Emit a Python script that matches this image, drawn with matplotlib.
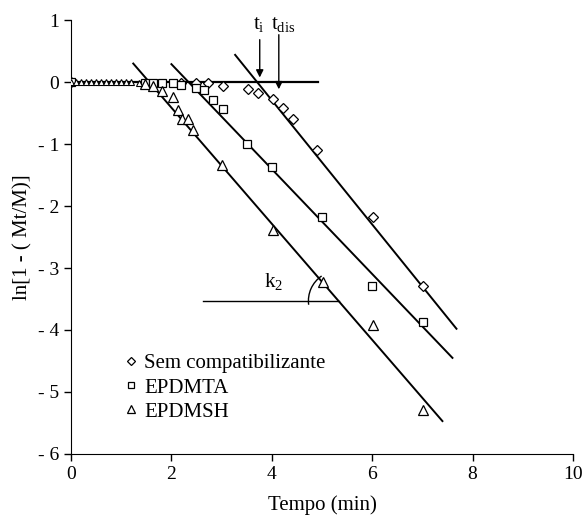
import matplotlib.pyplot as plt
from matplotlib.patches import Arc

plt.rcParams["font.family"] = ["Liberation Serif", "DejaVu Serif"]
plt.rcParams["mathtext.fontset"] = "custom"
plt.rcParams["mathtext.rm"] = "Liberation Serif"
plt.rcParams["mathtext.it"] = "Liberation Serif"

# Sem compatibilizante (diamonds)
t_sem = [0, 2.2, 2.5, 2.73, 3.02, 3.52, 3.72, 4.02, 4.23, 4.43, 4.91, 6.02, 7.02]
y_sem = [0, -0.02, -0.02, -0.02, -0.06, -0.11, -0.17, -0.28, -0.42, -0.59, -1.10, -2.17, -3.29]

# EPDMTA (squares)
t_ta = [0, 1.47, 1.64, 1.81, 2.04, 2.2, 2.5, 2.64, 2.82, 3.02, 3.51, 4.01, 5.01, 6.0, 7.02]
y_ta = [0, -0.01, -0.01, -0.01, -0.02, -0.05, -0.09, -0.12, -0.29, -0.44, -1.0, -1.37, -2.18, -3.29, -3.87]

# EPDMSH (triangles): dense early readings, then the later ones
t_sh_early = [0, 0.1, 0.2, 0.3, 0.4, 0.5, 0.6, 0.7, 0.8, 0.9, 1.0, 1.1, 1.2, 1.35]
y_sh_early = [0, 0, 0, 0, 0, 0, 0, 0, 0, 0, 0, 0, 0, -0.01]
t_sh = [1.47, 1.64, 1.81, 2.03, 2.14, 2.22, 2.34, 2.44, 3.01, 4.02, 5.03, 6.01, 7.02]
y_sh = [-0.03, -0.06, -0.14, -0.24, -0.45, -0.6, -0.6, -0.77, -1.34, -2.38, -3.22, -3.92, -5.29]

# fitted lines (end points)
base_t = [0, 4.93]
base_y = [0, 0]
fit_sem_t = [3.27, 7.68]
fit_sem_y = [0.44, -3.98]
fit_ta_t = [2.0, 7.6]
fit_ta_y = [0.29, -4.45]
fit_sh_t = [1.24, 7.4]
fit_sh_y = [0.30, -5.47]
k2_t = [2.63, 5.33]
k2_y = [-3.53, -3.53]

fig, ax = plt.subplots(figsize=(5.87, 5.17), dpi=100)
fig.subplots_adjust(left=0.121, right=0.976, bottom=0.122, top=0.961)

ax.plot(base_t, base_y, color="black", lw=1.6, zorder=1)
for ft, fy in [(fit_sem_t, fit_sem_y), (fit_ta_t, fit_ta_y), (fit_sh_t, fit_sh_y)]:
    ax.plot(ft, fy, color="black", lw=1.4, zorder=1)
ax.plot(k2_t, k2_y, color="black", lw=1.0, zorder=1)

ax.plot(t_sem, y_sem, "D", ms=5.2, mfc="white", mec="black", mew=0.9, ls="none",
        label="Sem compatibilizante", zorder=3)
ax.plot(t_ta, y_ta, "s", ms=6, mfc="white", mec="black", mew=0.9, ls="none",
        label="EPDMTA", zorder=3)
ax.plot(t_sh, y_sh, "^", ms=6.5, mfc="white", mec="black", mew=0.9, ls="none",
        label="EPDMSH", zorder=3)
ax.plot(t_sh_early, y_sh_early, "^", ms=4.5, mfc="white", mec="black", mew=0.8, ls="none",
        zorder=3)

# angle arc for k2
ax.add_patch(Arc((5.33, -3.53), 1.2, 0.97, theta1=130, theta2=186, color="black", lw=1.0))
ax.text(3.85, -3.3, r"k$_2$", fontsize=15)

# t_i and t_dis arrows
ax.annotate("", xy=(3.76, 0.03), xytext=(3.76, 0.73),
            arrowprops=dict(arrowstyle="-|>", color="black", lw=1.0, mutation_scale=11))
ax.annotate("", xy=(4.14, -0.16), xytext=(4.14, 0.81),
            arrowprops=dict(arrowstyle="-|>", color="black", lw=1.0, mutation_scale=11))
ax.text(3.62, 0.86, r"t$_\mathregular{i}$", fontsize=15)
ax.text(3.98, 0.86, r"t$_\mathregular{dis}$", fontsize=15)

ax.set_xlim(0, 10)
ax.set_ylim(-6, 1)
ax.set_xticks([0, 2, 4, 6, 8, 10])
ax.set_yticks([1, 0, -1, -2, -3, -4, -5, -6])
ax.set_yticklabels(["1", "0", "- 1", "- 2", "- 3", "- 4", "- 5", "- 6"])
ax.tick_params(direction="out", length=5, labelsize=14, width=1)
ax.spines["top"].set_visible(False)
ax.spines["right"].set_visible(False)
ax.set_xlabel("Tempo (min)", fontsize=15, labelpad=9)
ax.set_ylabel("ln[1 - ( Mt/M)]", fontsize=15)

ax.legend(loc="upper left", bbox_to_anchor=(0.09, 0.25), frameon=False, fontsize=15,
          handlelength=0.6, handletextpad=0.35, labelspacing=0.22, markerscale=0.8,
          borderaxespad=0)

fig.savefig("out.png", dpi=100)
